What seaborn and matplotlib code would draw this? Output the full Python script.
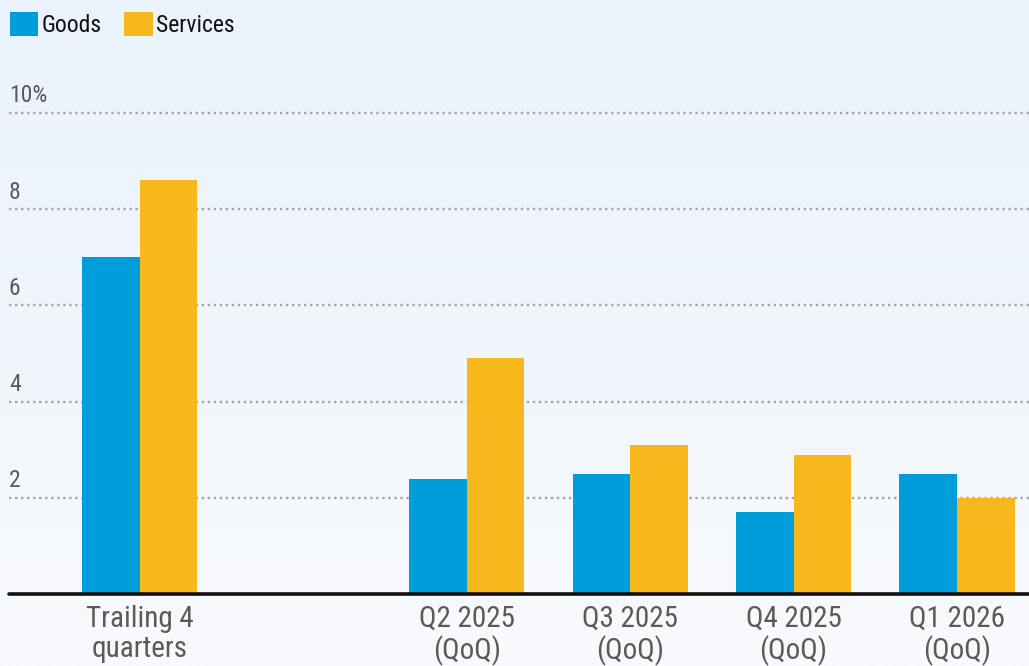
import numpy as np
import pandas as pd
import matplotlib
matplotlib.use("Agg")
import matplotlib.pyplot as plt
import matplotlib.transforms as mtransforms
from matplotlib.patches import Patch
import seaborn as sns

categories = ["Trailing 4\nquarters", "", "Q2 2025\n(QoQ)", "Q3 2025\n(QoQ)", "Q4 2025\n(QoQ)", "Q1 2026\n(QoQ)"]
data_categories = ["Trailing 4\nquarters", "Q2 2025\n(QoQ)", "Q3 2025\n(QoQ)", "Q4 2025\n(QoQ)", "Q1 2026\n(QoQ)"]
goods = [7.0, 2.4, 2.5, 1.7, 2.5]
services = [8.6, 4.9, 3.1, 2.9, 2.0]
series = ["Goods", "Services"]
yticks = [2, 4, 6, 8, 10]
ytick_labels = ["2", "4", "6", "8", "10%"]

colors = {"Goods": "#009ddb", "Services": "#f6b81c"}

sns.set_theme(style="white")
plt.rcParams["font.family"] = ["Roboto Condensed", "Liberation Sans Narrow", "Arial Narrow", "Roboto", "DejaVu Sans"]

df = pd.DataFrame({
    "category": data_categories * 2,
    "series": ["Goods"] * len(goods) + ["Services"] * len(services),
    "value": goods + services,
})

fig = plt.figure(figsize=(10.29, 6.66), dpi=100)
# background gradient
bg = fig.add_axes([0, 0, 1, 1], zorder=-10)
grad = np.linspace(0, 1, 256).reshape(-1, 1)
top = np.array([0xea, 0xf2, 0xfc]) / 255
bot = np.array([0xf8, 0xfa, 0xfd]) / 255
img = top[None, None, :] * (1 - grad[:, :, None]) + bot[None, None, :] * grad[:, :, None]
bg.imshow(img, aspect="auto", extent=[0, 1, 0, 1])
bg.set_axis_off()

ax = fig.add_axes([9 / 1029, 1 - 594 / 666, 1 - 9 / 1029, (594 - 89) / 666])
ax.patch.set_alpha(0)

sns.barplot(data=df, x="category", y="value", hue="series", order=categories,
            hue_order=series, palette=colors, width=0.705, gap=0, saturation=1,
            linewidth=0, edgecolor="none", ax=ax, legend=False, zorder=3)

ax.set_xlim(-0.80, 5.44)
ax.set_ylim(0, 10.5)
for s in ax.spines.values():
    s.set_visible(False)

for y in yticks:
    ax.axhline(y, color="#a4a4a4", lw=1.7, ls=(0, (1, 1.55)), zorder=1)
ax.axhline(0, color="#111111", lw=2.6, zorder=4, clip_on=False)

ax.set_yticks([])
trans = mtransforms.blended_transform_factory(ax.transAxes, ax.transData)
for y, lab in zip(yticks, ytick_labels):
    ax.annotate(lab, xy=(0.0, y), xycoords=trans, xytext=(0, 4), textcoords="offset points",
                ha="left", va="bottom", fontsize=17, color="#5a5a5a")

ax.set_xticks(range(len(categories)))
ax.set_xticklabels(categories, fontsize=21, color="#5a5a5a", linespacing=1.1)
ax.tick_params(axis="x", length=0, pad=8)
ax.set_xlabel("")
ax.set_ylabel("")

handles = [Patch(facecolor=colors[s], edgecolor="none", label=s) for s in series]
fig.legend(handles=handles, loc="upper left", bbox_to_anchor=(0.0, 1 - 2 / 666), ncol=2,
           frameon=False, fontsize=17, handlelength=1.2, handleheight=1.2,
           handletextpad=0.15, columnspacing=0.95, labelcolor="#111111",
           borderaxespad=0, borderpad=0.42)

fig.savefig("out.png", dpi=100)
